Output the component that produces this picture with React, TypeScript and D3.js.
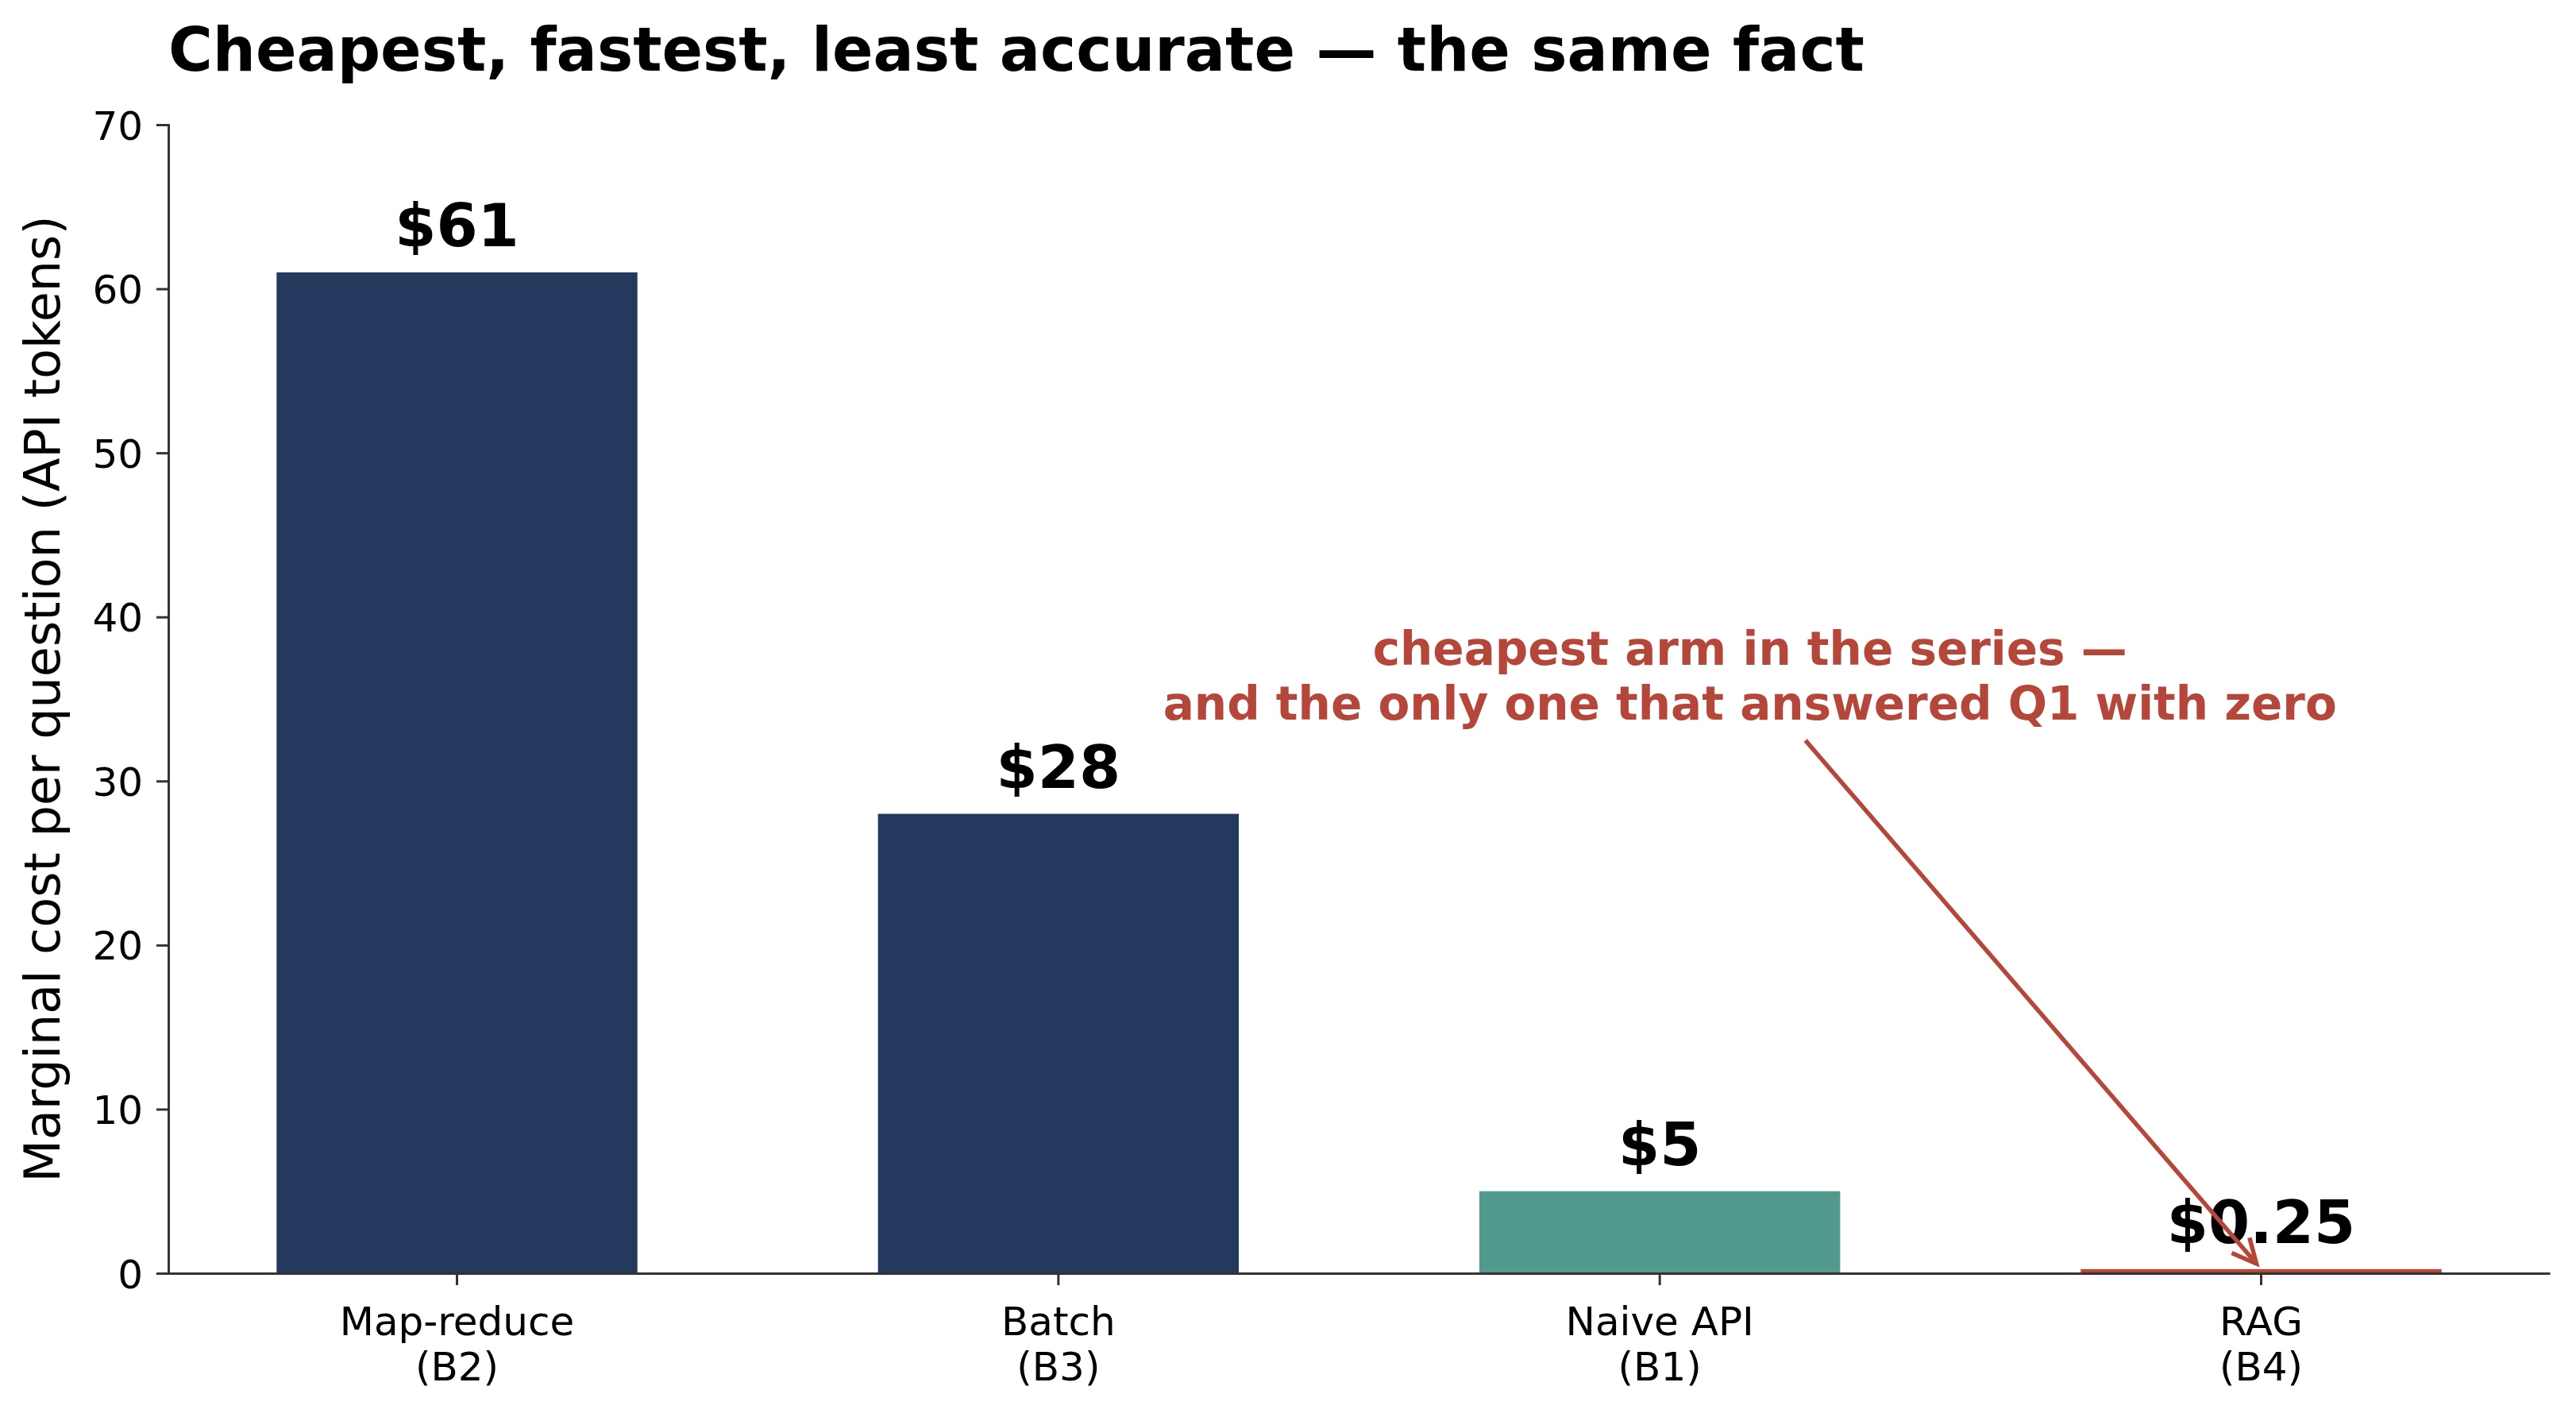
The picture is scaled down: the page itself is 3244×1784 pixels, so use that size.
import React, { useEffect, useRef } from 'react';
import * as d3 from 'd3';

const categories = ['Map-reduce\n(B2)', 'Batch\n(B3)', 'Naive API\n(B1)', 'RAG\n(B4)'];
const costs = [61, 28, 5, 0.25];
const costLabels = ['$61', '$28', '$5', '$0.25'];
const barColors = ['#233a5e', '#233a5e', '#529a8d', '#b5473a'];
const yTicks = [0, 10, 20, 30, 40, 50, 60, 70];
const noteLines = ['cheapest arm in the series —', 'and the only one that answered Q1 with zero'];
const noteAt = { x: 2.15, y: 36.4 };
const notePoint = { index: 3, y: 0.25 };

const WIDTH = 3244;
const HEIGHT = 1784;
const FONT = 'DejaVu Sans, Liberation Sans, sans-serif';
const RED = '#b5473a';
const AXIS = '#333333';

const App: React.FC = () => {
  const svgRef = useRef<SVGSVGElement>(null);

  useEffect(() => {
    if (!svgRef.current) return;
    const svg = d3.select(svgRef.current);
    svg.selectAll('*').remove();

    const margin = { top: 157, right: 33, bottom: 181, left: 212 };
    const innerWidth = WIDTH - margin.left - margin.right;
    const innerHeight = HEIGHT - margin.top - margin.bottom;

    const g = svg.append('g').attr('transform', `translate(${margin.left},${margin.top})`);

    const xScale = d3
      .scaleBand<string>()
      .domain(categories)
      .range([0, innerWidth])
      .paddingInner(0.4)
      .paddingOuter(0.18);

    const yScale = d3.scaleLinear().domain([0, 70]).range([innerHeight, 0]);

    // bars
    g.selectAll('.bar')
      .data(costs)
      .enter()
      .append('rect')
      .attr('x', (_, i) => xScale(categories[i])!)
      .attr('width', xScale.bandwidth())
      .attr('y', d => yScale(d))
      .attr('height', d => innerHeight - yScale(d))
      .attr('fill', (_, i) => barColors[i]);

    // value labels
    g.selectAll('.val')
      .data(costs)
      .enter()
      .append('text')
      .attr('x', (_, i) => xScale(categories[i])! + xScale.bandwidth() / 2)
      .attr('y', d => yScale(d + 1.6))
      .attr('text-anchor', 'middle')
      .style('font-family', FONT)
      .style('font-weight', 'bold')
      .style('font-size', '75px')
      .attr('fill', '#000')
      .text((_, i) => costLabels[i]);

    // y axis
    const yAxis = g
      .append('g')
      .call(d3.axisLeft(yScale).tickValues(yTicks).tickSize(15).tickPadding(17));
    yAxis.select('.domain').attr('stroke', AXIS).attr('stroke-width', 3);
    yAxis.selectAll('.tick line').attr('stroke', AXIS).attr('stroke-width', 3);
    yAxis
      .selectAll('.tick text')
      .style('font-family', FONT)
      .style('font-size', '50px')
      .attr('fill', '#000')
      .attr('dy', '0.36em');

    // x axis
    const xAxis = g
      .append('g')
      .attr('transform', `translate(0,${innerHeight})`)
      .call(d3.axisBottom(xScale).tickSize(15).tickSizeOuter(0).tickFormat(() => ''));
    xAxis.select('.domain').attr('stroke', AXIS).attr('stroke-width', 3);
    xAxis.selectAll('.tick line').attr('stroke', AXIS).attr('stroke-width', 3);
    xAxis.selectAll('.tick text').remove();
    xAxis
      .selectAll('.tick')
      .append('text')
      .attr('text-anchor', 'middle')
      .style('font-family', FONT)
      .style('font-size', '50px')
      .attr('fill', '#000')
      .selectAll('tspan')
      .data(d => String(d).split('\n'))
      .enter()
      .append('tspan')
      .attr('x', 0)
      .attr('y', (_, i) => 78 + i * 57)
      .text(d => d);

    // y label
    svg
      .append('text')
      .attr('transform', `translate(75,${margin.top + innerHeight / 2}) rotate(-90)`)
      .attr('text-anchor', 'middle')
      .style('font-family', FONT)
      .style('font-size', '62px')
      .attr('fill', '#000')
      .text('Marginal cost per question (API tokens)');

    // title
    svg
      .append('text')
      .attr('x', margin.left)
      .attr('y', 89)
      .style('font-family', FONT)
      .style('font-weight', 'bold')
      .style('font-size', '76px')
      .attr('fill', '#000')
      .text('Cheapest, fastest, least accurate — the same fact');

    // annotation
    const xData = d3
      .scaleLinear()
      .domain([-0.5, categories.length - 0.5])
      .range([
        xScale(categories[0])! + xScale.bandwidth() / 2 - xScale.step() / 2,
        xScale(categories[categories.length - 1])! + xScale.bandwidth() / 2 + xScale.step() / 2,
      ]);
    const tx = xData(noteAt.x);
    const ty = yScale(noteAt.y);
    const lineH = 69;
    const note = g
      .append('text')
      .attr('text-anchor', 'middle')
      .style('font-family', FONT)
      .style('font-weight', 'bold')
      .style('font-size', '58px')
      .attr('fill', RED);
    note
      .selectAll('tspan')
      .data(noteLines)
      .enter()
      .append('tspan')
      .attr('x', tx)
      .attr('y', (_, i) => ty + (i - (noteLines.length - 1) / 2) * lineH)
      .attr('dy', '0.36em')
      .text(d => d);

    const px = xScale(categories[notePoint.index])! + xScale.bandwidth() / 2;
    const py = yScale(notePoint.y);
    const bottom = ty + (noteLines.length * lineH) / 2 + 6;
    const dxv = px - tx;
    const dyv = py - ty;
    const t0 = (bottom - ty) / dyv;
    const len = Math.hypot(dxv, dyv);
    const ux = dxv / len;
    const uy = dyv / len;
    const sx = tx + dxv * t0 + ux * 8;
    const sy = ty + dyv * t0 + uy * 8;
    const ex = px - ux * 9;
    const ey = py - uy * 9;
    const arrow = g.append('g').attr('stroke', RED).attr('stroke-width', 5.5).attr('fill', 'none');
    arrow.append('line').attr('x1', sx).attr('y1', sy).attr('x2', ex).attr('y2', ey);
    const head = 34;
    const ang = Math.atan2(uy, ux);
    const spread = 0.45;
    const headPath = d3.path();
    headPath.moveTo(ex - head * Math.cos(ang - spread), ey - head * Math.sin(ang - spread));
    headPath.lineTo(ex, ey);
    headPath.lineTo(ex - head * Math.cos(ang + spread), ey - head * Math.sin(ang + spread));
    arrow.append('path').attr('d', headPath.toString()).attr('stroke-linejoin', 'miter');
  }, []);

  return (
    <svg
      ref={svgRef}
      width={WIDTH}
      height={HEIGHT}
      style={{ position: 'absolute', left: 0, top: 0, background: '#fff' }}
    />
  );
};

export default App;
